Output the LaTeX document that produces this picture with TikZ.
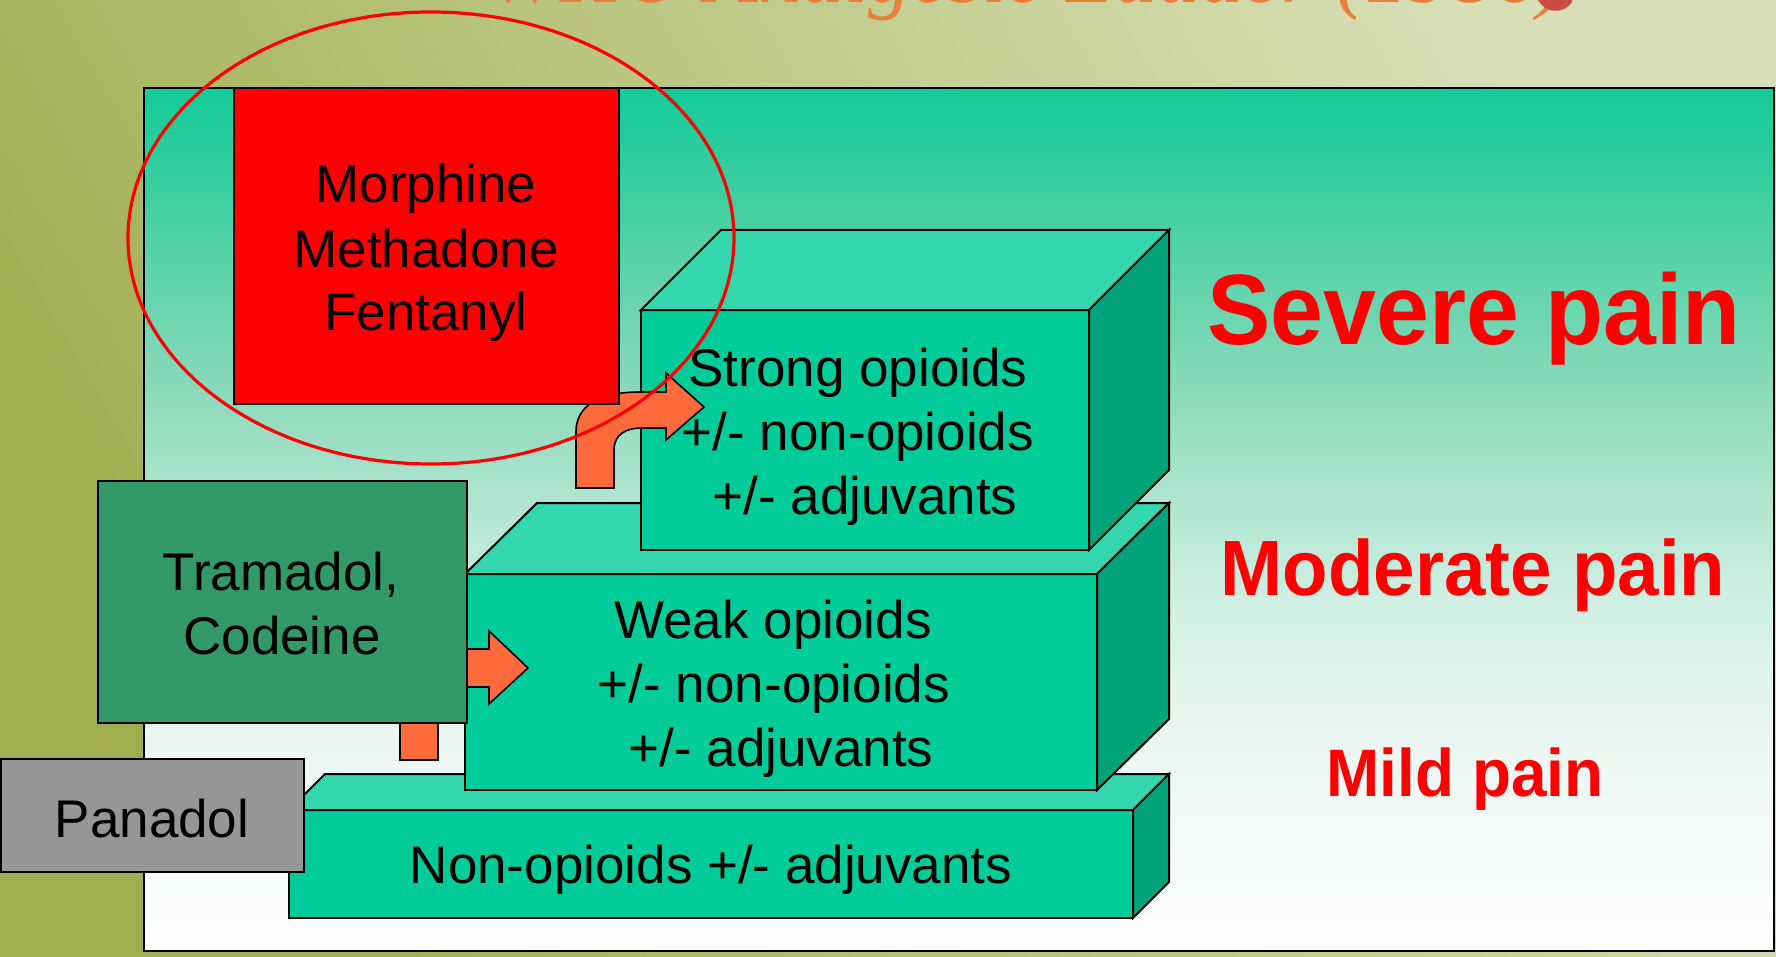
\documentclass[tikz,border=0pt]{standalone}
\usepackage{fontspec}
\setmainfont{Liberation Sans}
\newfontfamily\titlefont{Liberation Serif}
\usetikzlibrary{calc,fit}

\definecolor{olivedark}{HTML}{A0AE50}
\definecolor{olivelight}{HTML}{D8DFB6}
\definecolor{panelA}{HTML}{12CC99}
\definecolor{panelB}{HTML}{40CFA0}
\definecolor{panelC}{HTML}{8EDABD}
\definecolor{panelD}{HTML}{D2F0E4}
\definecolor{panelE}{HTML}{EAF6F1}
\definecolor{stepfront}{HTML}{00CC99}
\definecolor{steptop}{HTML}{33D6AD}
\definecolor{stepside}{HTML}{00A37A}
\definecolor{drugred}{HTML}{FF0000}
\definecolor{druggreen}{HTML}{339966}
\definecolor{druggray}{HTML}{969696}
\definecolor{arroworange}{HTML}{FF6B3B}
\definecolor{titleorange}{HTML}{E8803C}
\definecolor{leafred}{HTML}{CC4B45}

% teal at the top of the panel fading to white at the bottom
\pgfdeclareverticalshading{panelshade}{100bp}{%
  color(0bp)=(white); color(25bp)=(white); color(37.5bp)=(panelE);
  color(45bp)=(panelD); color(57bp)=(panelC); color(68.5bp)=(panelB);
  color(75bp)=(panelA); color(100bp)=(panelA)}

\tikzset{
  outline/.style={draw=black, line width=1pt},
  face/.style={outline, line join=miter},
  drugbox/.style={outline, inner sep=0pt, outer sep=0pt},
  txt/.style={font=\fontsize{26.5}{32}\selectfont, inner sep=0pt, anchor=base},
  painlbl/.style={font=\bfseries\fontsize{#1}{#1}\selectfont, text=drugred,
    inner sep=0pt, anchor=base, xscale=0.95},
  blockarrow/.style={fill=arroworange, draw=black, line width=0.8pt, line join=miter},
}

\begin{document}
\begin{tikzpicture}[x=0.5pt, y=-0.5pt]
\useasboundingbox (0,0) rectangle (1776,957);

% slide background
\shade[top color=olivelight, bottom color=olivedark, shading angle=-60]
  (0,0) rectangle (1776,957);

% slide title, running off the top edge
\begin{scope}
  \clip (0,0) rectangle (1776,957);
  \node[font=\titlefont\itshape\fontsize{43}{43}\selectfont, text=titleorange,
    anchor=base west, inner sep=0pt] (title) at (488,3) {WHO Analgesic Ladder (1986)};
  \fill[leafred] (1538,0) .. controls (1544,12) and (1562,16) .. (1572,2) -- (1572,0) -- cycle;
\end{scope}

% panel
\shade[shading=panelshade] (144,88) rectangle (1774,951);
\node[fit={(144,88) (1774,951)}, inner sep=0pt, outer sep=0pt, draw=black,
  line width=1.25pt] (panel) {};

% step 1: non-opioids
\node[drugbox, fill=stepfront, fit={(289,810) (1133,918)}] (nonfront) {};
\draw[face, fill=steptop] (nonfront.north west) -- ++(36,-36)
  -- ($(nonfront.north east)+(36,-36)$) -- (nonfront.north east) -- cycle;
\draw[face, fill=stepside] (nonfront.north east) -- ++(36,-36)
  -- ($(nonfront.south east)+(36,-36)$) -- (nonfront.south east) -- cycle;

% step 2: weak opioids
\node[drugbox, fill=stepfront, fit={(465,574) (1097,790)}] (weakfront) {};
\draw[face, fill=steptop] (weakfront.north west) -- ++(72,-71)
  -- ($(weakfront.north east)+(72,-71)$) -- (weakfront.north east) -- cycle;
\draw[face, fill=stepside] (weakfront.north east) -- ++(72,-71)
  -- ($(weakfront.south east)+(72,-71)$) -- (weakfront.south east) -- cycle;

% step 3: strong opioids
\node[drugbox, fill=stepfront, fit={(641,310) (1089,550)}] (strongfront) {};
\draw[face, fill=steptop] (strongfront.north west) -- ++(80,-80)
  -- ($(strongfront.north east)+(80,-80)$) -- (strongfront.north east) -- cycle;
\draw[face, fill=stepside] (strongfront.north east) -- ++(80,-80)
  -- ($(strongfront.south east)+(80,-80)$) -- (strongfront.south east) -- cycle;

% bent arrows climbing the ladder
\draw[blockarrow] (400,760) -- (400,700) .. controls (400,668) and (422,649) .. (455,649)
  -- (489,649) -- (489,631) -- (528,668) -- (489,704) -- (489,687) -- (455,687)
  .. controls (445,687) and (438,695) .. (438,712) -- (438,760) -- cycle;
\draw[blockarrow] (576,488) -- (576,432) .. controls (576,405) and (600,392) .. (640,392)
  -- (666,392) -- (666,373) -- (704,407) -- (666,440) -- (666,428) -- (642,428)
  .. controls (625,428) and (614,435) .. (614,450) -- (614,488) -- cycle;

% step texts
\node[txt] (non1) at (711,883) {Non-opioids +/- adjuvants};
\node[txt] (weak1) at (773,638) {Weak opioids};
\node[txt] (weak2) at (774,702) {+/- non-opioids};
\node[txt] (weak3) at (781,766) {+/- adjuvants};
\node[txt] (strong1) at (858,386) {Strong opioids};
\node[txt] (strong2) at (858,450) {+/- non-opioids};
\node[txt] (strong3) at (865,514) {+/- adjuvants};

% drug examples
\node[drugbox, fill=druggreen, fit={(98,481) (467,723)}] (tram) {};
\node[txt] (tram1) at (281,590) {Tramadol,};
\node[txt] (tram2) at (282,654) {Codeine};

\node[drugbox, fill=druggray, fit={(1,759) (304,872)}] (pana) {};
\node[txt] (pana1) at (152,837) {Panadol};

\node[drugbox, fill=drugred, fit={(234,88) (619,404)}] (strongdrugs) {};
\node[txt] (sd1) at (426,203) {Morphine};
\node[txt] (sd2) at (426,267) {Methadone};
\node[txt] (sd3) at (426,330) {Fentanyl};

% highlight ring
\draw[drugred, line width=1.6pt] (431,238) ellipse [x radius=151.5pt, y radius=113pt];

% pain levels
\node[painlbl=50] (severe) at (1474,344) {Severe pain};
\node[painlbl=39.2] (moderate) at (1473,595) {Moderate pain};
\node[painlbl=33.6] (mild) at (1465,796) {Mild pain};
\end{tikzpicture}
\end{document}
